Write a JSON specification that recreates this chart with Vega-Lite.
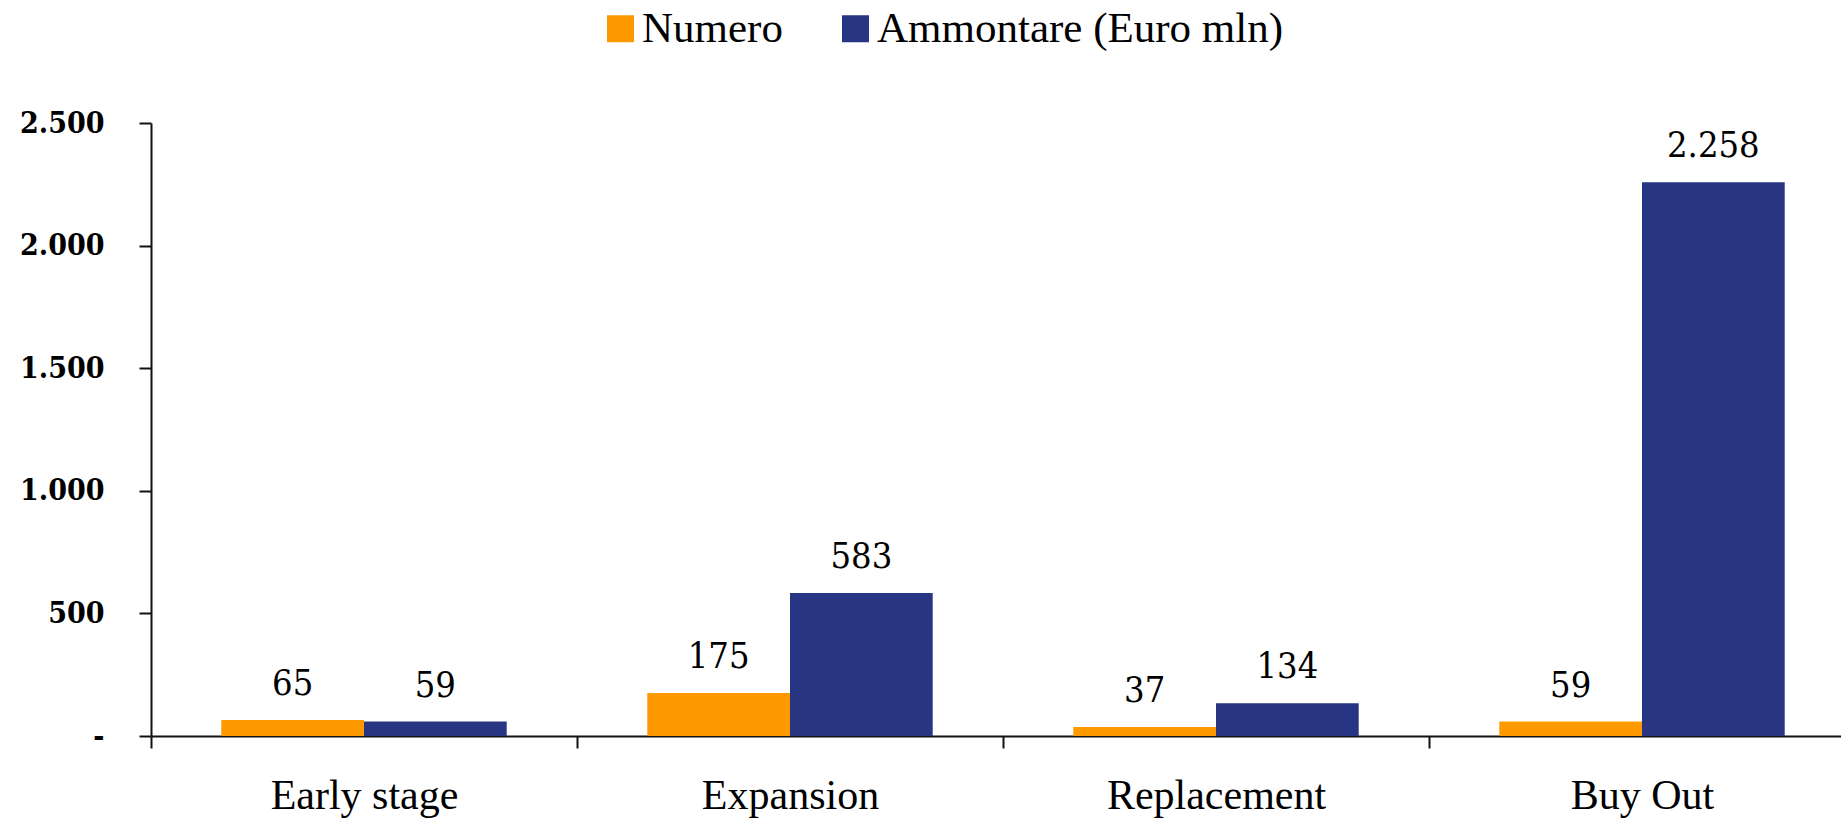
{
  "$schema": "https://vega.github.io/schema/vega-lite/v6.json",
  "width": 1704,
  "height": 613,
  "autosize": {"type": "none"},
  "padding": {"left": 151, "top": 123, "right": 0, "bottom": 82},
  "background": "white",
  "config": {
    "locale": {"number": {"decimal": ",", "thousands": ".", "grouping": [3], "currency": ["€", ""]}},
    "view": {"stroke": null},
    "font": "Liberation Serif"
  },
  "data": {
    "values": [
      {"fase": "Early stage", "serie": "Numero", "valore": 65},
      {"fase": "Early stage", "serie": "Ammontare (Euro mln)", "valore": 59},
      {"fase": "Expansion", "serie": "Numero", "valore": 175},
      {"fase": "Expansion", "serie": "Ammontare (Euro mln)", "valore": 583},
      {"fase": "Replacement", "serie": "Numero", "valore": 37},
      {"fase": "Replacement", "serie": "Ammontare (Euro mln)", "valore": 134},
      {"fase": "Buy Out", "serie": "Numero", "valore": 59},
      {"fase": "Buy Out", "serie": "Ammontare (Euro mln)", "valore": 2258}
    ]
  },
  "encoding": {
    "x": {
      "field": "fase",
      "type": "nominal",
      "sort": ["Early stage", "Expansion", "Replacement", "Buy Out"],
      "scale": {"paddingInner": 0, "paddingOuter": 0},
      "axis": {
        "title": null,
        "labelAngle": 0,
        "tickBand": "extent",
        "tickSize": 12,
        "tickWidth": 2,
        "tickColor": "#111111",
        "domainColor": "#111111",
        "domainWidth": 2,
        "labelPadding": 27,
        "labelFont": "Liberation Serif",
        "labelFontSize": 42,
        "labelColor": "black",
        "labelLimit": 0,
        "grid": false
      }
    },
    "xOffset": {
      "field": "serie",
      "sort": ["Numero", "Ammontare (Euro mln)"],
      "scale": {"paddingInner": 0, "paddingOuter": 0.4925}
    },
    "y": {
      "field": "valore",
      "type": "quantitative",
      "scale": {"domain": [0, 2500], "nice": false},
      "axis": {
        "title": null,
        "values": [0, 500, 1000, 1500, 2000, 2500],
        "format": ",d",
        "labelExpr": "datum.value == 0 ? '-' : datum.label",
        "tickSize": 12,
        "tickWidth": 2,
        "tickColor": "#111111",
        "domainColor": "#111111",
        "domainWidth": 2,
        "labelPadding": 35,
        "labelFont": "DejaVu Serif Condensed, DejaVu Serif",
        "labelFontWeight": "bold",
        "labelFontSize": 30,
        "labelColor": "black",
        "grid": false
      }
    }
  },
  "layer": [
    {
      "mark": {"type": "bar"},
      "encoding": {
        "color": {
          "field": "serie",
          "type": "nominal",
          "sort": ["Numero", "Ammontare (Euro mln)"],
          "scale": {"domain": ["Numero", "Ammontare (Euro mln)"], "range": ["#FF9900", "#283583"]},
          "legend": {
            "title": null,
            "orient": "none",
            "direction": "horizontal",
            "legendX": 448,
            "legendY": -116,
            "padding": 0,
            "symbolType": "square",
            "symbolSize": 729,
            "symbolStrokeWidth": 0,
            "labelFont": "Liberation Serif",
            "labelFontSize": 43,
            "labelColor": "black",
            "labelLimit": 0,
            "labelOffset": 0,
            "columnPadding": 51
          }
        }
      }
    },
    {
      "mark": {"type": "text", "baseline": "alphabetic", "dy": -25, "font": "DejaVu Serif Condensed, DejaVu Serif", "fontSize": 36, "color": "black"},
      "encoding": {
        "text": {"field": "valore", "type": "quantitative", "format": ",d"}
      }
    }
  ]
}
